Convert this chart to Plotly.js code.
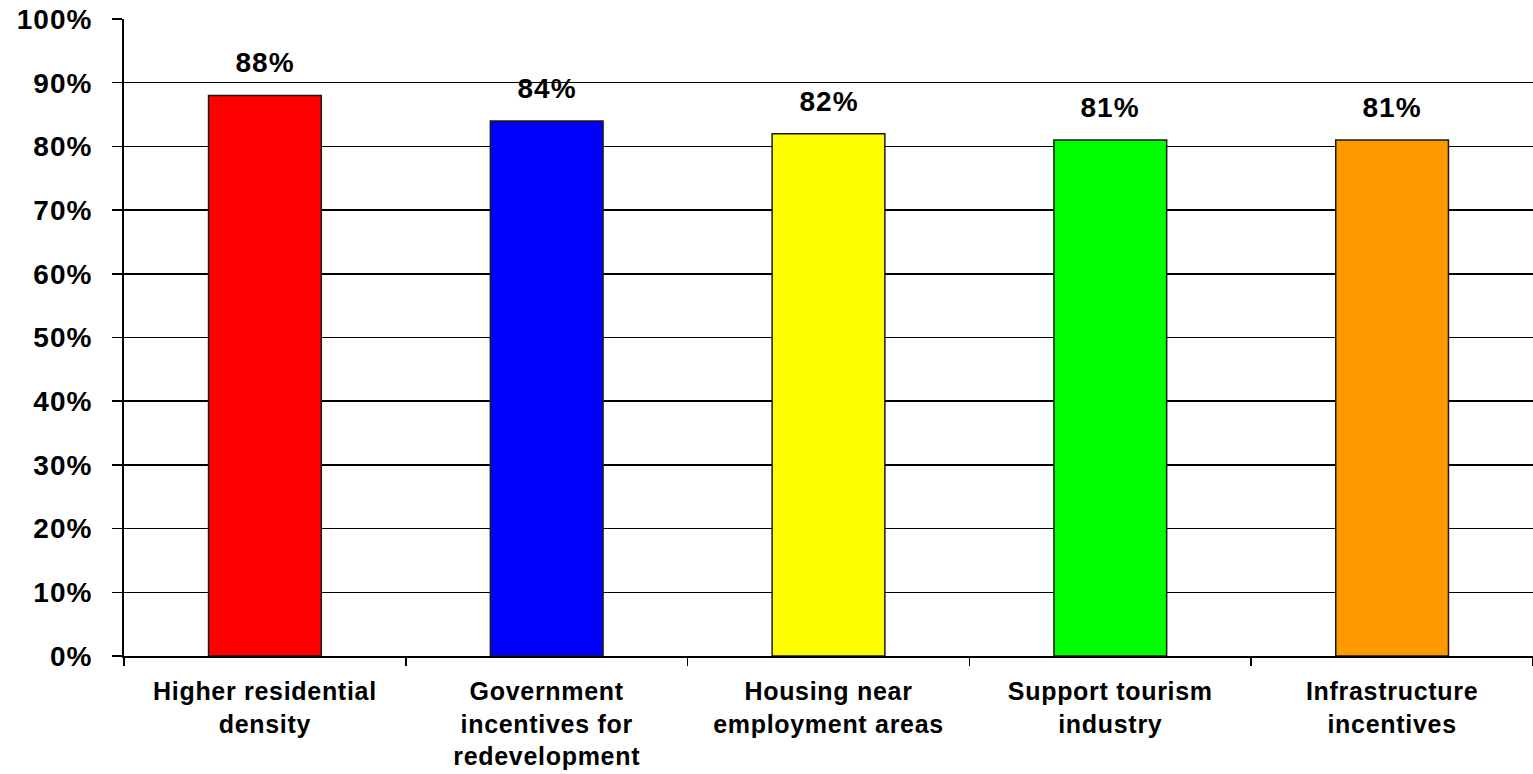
<!DOCTYPE html>
<html>
<head>
<meta charset="utf-8">
<script src="https://cdn.plot.ly/plotly-3.0.1.min.js"></script>
<style>
  html, body { margin: 0; padding: 0; background: #fff; }
  #chart { width: 1533px; height: 774px; }
  .js-plotly-plot .xtick text { letter-spacing: 0.7px; }
  .js-plotly-plot .ytick text { letter-spacing: 1px; }
  .js-plotly-plot .annotation-text { letter-spacing: 1px; }
</style>
</head>
<body>
<div id="chart"></div>
<script>
const categories = [
  "Higher residential<br>density",
  "Government<br>incentives for<br>redevelopment",
  "Housing near<br>employment areas",
  "Support tourism<br>industry",
  "Infrastructure<br>incentives"
];
const values = [88, 84, 82, 81, 81];
const barColors = ["#FF0000", "#0000FF", "#FFFF00", "#00FF00", "#FF9900"];
const yTickValues = [0, 10, 20, 30, 40, 50, 60, 70, 80, 90, 100];

const FONT = "'Liberation Sans', Arial, sans-serif";

const trace = {
  type: "bar",
  x: categories,
  y: values,
  width: 0.4,
  marker: { color: barColors, line: { color: "#1a1a1a", width: 1.5 } },
  hoverinfo: "skip"
};

const annotations = categories.map((c, i) => ({
  x: c,
  y: values[i],
  xref: "x",
  yref: "y",
  text: "<b>" + values[i] + "%</b>",
  showarrow: false,
  yanchor: "bottom",
  yshift: 15,
  font: { family: FONT, size: 28, color: "#000" }
}));

const layout = {
  width: 1533,
  height: 774,
  margin: { l: 124, r: 0, t: 19, b: 118 },
  paper_bgcolor: "#fff",
  plot_bgcolor: "#fff",
  showlegend: false,
  font: { family: FONT, color: "#000" },
  xaxis: {
    type: "category",
    tickson: "boundaries",
    ticks: "outside",
    ticklen: 8,
    tickwidth: 1.5,
    tickcolor: "#000",
    showline: true,
    linecolor: "#000",
    linewidth: 2,
    showgrid: false,
    ticklabelstandoff: 12,
    tickfont: { family: FONT, size: 25, color: "#000", weight: "bold" },
    fixedrange: true
  },
  yaxis: {
    range: [0, 100],
    tickvals: yTickValues,
    ticktext: yTickValues.map(v => v + "%"),
    ticks: "outside",
    ticklen: 10,
    tickwidth: 1.5,
    tickcolor: "#000",
    showline: true,
    linecolor: "#000",
    linewidth: 2,
    showgrid: true,
    gridcolor: "#000",
    gridwidth: 1.5,
    zeroline: false,
    ticklabelstandoff: 14,
    tickfont: { family: FONT, size: 28, color: "#000", weight: "bold" },
    fixedrange: true
  },
  annotations: annotations
};

Plotly.newPlot("chart", [trace], layout, { displayModeBar: false, staticPlot: true });
</script>
</body>
</html>
